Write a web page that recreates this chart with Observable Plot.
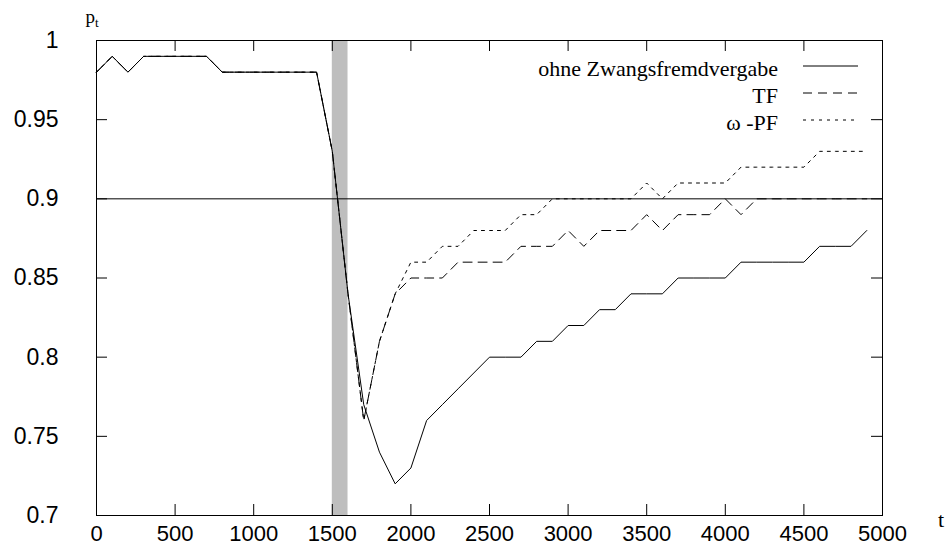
<!DOCTYPE html>
<html><head><meta charset="utf-8">
<script src="https://cdn.jsdelivr.net/npm/d3@7"></script>
<script src="https://cdn.jsdelivr.net/npm/@observablehq/plot@0.6"></script>
<style>body{margin:0;background:#fff}</style>
</head><body><div id="chart"></div>
<script>
const tValues = [0,100,200,300,400,500,600,700,800,900,1000,1100,1200,1300,1400,1500,1600,1700,1800,1900,2000,2100,2200,2300,2400,2500,2600,2700,2800,2900,3000,3100,3200,3300,3400,3500,3600,3700,3800,3900,4000,4100,4200,4300,4400,4500,4600,4700,4800,4900];
const ohneZF = [0.98,0.99,0.98,0.99,0.99,0.99,0.99,0.99,0.98,0.98,0.98,0.98,0.98,0.98,0.98,0.93,0.84,0.77,0.74,0.72,0.73,0.76,0.77,0.78,0.79,0.80,0.80,0.80,0.81,0.81,0.82,0.82,0.83,0.83,0.84,0.84,0.84,0.85,0.85,0.85,0.85,0.86,0.86,0.86,0.86,0.86,0.87,0.87,0.87,0.88];
const tfValues = [0.98,0.99,0.98,0.99,0.99,0.99,0.99,0.99,0.98,0.98,0.98,0.98,0.98,0.98,0.98,0.93,0.84,0.76,0.81,0.84,0.85,0.85,0.85,0.86,0.86,0.86,0.86,0.87,0.87,0.87,0.88,0.87,0.88,0.88,0.88,0.89,0.88,0.89,0.89,0.89,0.90,0.89,0.90,0.90,0.90,0.90,0.90,0.90,0.90,0.90];
const omegaPF = [0.98,0.99,0.98,0.99,0.99,0.99,0.99,0.99,0.98,0.98,0.98,0.98,0.98,0.98,0.98,0.93,0.84,0.76,0.81,0.84,0.86,0.86,0.87,0.87,0.88,0.88,0.88,0.89,0.89,0.90,0.90,0.90,0.90,0.90,0.90,0.91,0.90,0.91,0.91,0.91,0.91,0.92,0.92,0.92,0.92,0.92,0.93,0.93,0.93,0.93];
const seriesNames = ["ohne Zwangsfremdvergabe", "TF", "ω -PF"];
const band = [{start: 1500, end: 1600}];
const threshold = [0.9];
const xTicks = [0,500,1000,1500,2000,2500,3000,3500,4000,4500,5000];
const yTicks = [0.7,0.75,0.8,0.85,0.9,0.95,1];
const yTickLabels = ["0.7","0.75","0.8","0.85","0.9","0.95","1"];

const W = 949, H = 547, mL = 96, mR = 67, mT = 40, mB = 32;
const pw = W - mL - mR, ph = H - mT - mB, tk = 11;
const dashes = [null, "9,6", "3,5"];
const seriesVals = [ohneZF, tfValues, omegaPF];
const rows = seriesVals.map(v => tValues.map((t, i) => ({t, p: v[i]})));
const serif = "'Liberation Serif', 'Times New Roman', serif";

const legend = (index, scales, values, dim) => {
  const g = d3.create("svg:g");
  const right = dim.width - dim.marginRight;
  seriesNames.forEach((name, i) => {
    const base = dim.marginTop + 35.5 + i * 27;
    g.append("text").attr("x", right - 104).attr("y", base)
      .attr("text-anchor", "end").attr("font-family", serif).attr("font-size", 22)
      .attr("fill", "#000").text(name);
    g.append("line").attr("x1", right - 79).attr("x2", right - 24)
      .attr("y1", base - 9.5).attr("y2", base - 9.5)
      .attr("stroke", "#000").attr("stroke-width", 1)
      .attr("stroke-dasharray", dashes[i]);
  });
  const pl = g.append("text").attr("x", dim.marginLeft - 4).attr("y", dim.marginTop - 17)
    .attr("font-family", serif).attr("font-size", 19).attr("fill", "#000");
  pl.append("tspan").text("p");
  pl.append("tspan").attr("font-size", 13).attr("dy", 4).text("t");
  g.append("text").attr("x", dim.width - 8).attr("y", dim.height - dim.marginBottom + 11.5)
    .attr("font-family", serif).attr("font-size", 22).attr("fill", "#000").text("t");
  return g.node();
};

const chart = Plot.plot({
  width: W, height: H,
  marginLeft: mL, marginRight: mR, marginTop: mT, marginBottom: mB,
  style: {fontFamily: "'Liberation Sans', Arial, sans-serif", fontSize: "22px", color: "#000", background: "#fff"},
  x: {domain: [0, 5000]},
  y: {domain: [0.7, 1]},
  marks: [
    Plot.rect(band, {x1: "start", x2: "end", y1: 0.7, y2: 1, fill: "#bebebe"}),
    Plot.ruleY(threshold, {stroke: "#000", strokeWidth: 1}),
    ...rows.map((r, i) => Plot.line(r, {x: "t", y: "p", stroke: "#000", strokeWidth: 1, strokeDasharray: dashes[i]})),
    Plot.frame({stroke: "#000", strokeWidth: 1}),
    Plot.tickY(yTicks, {y: d => d, insetRight: pw - tk, stroke: "#000"}),
    Plot.tickY(yTicks, {y: d => d, insetLeft: pw - tk, stroke: "#000"}),
    Plot.tickX(xTicks, {x: d => d, insetTop: ph - tk, stroke: "#000"}),
    Plot.tickX(xTicks, {x: d => d, insetBottom: ph - tk, stroke: "#000"}),
    Plot.axisX({ticks: xTicks, tickSize: 0, tickPadding: 10, fontSize: 22, label: null, tickFormat: d => String(d)}),
    Plot.axisY({ticks: yTicks, tickSize: 0, tickPadding: 38, fontSize: 23, label: null, tickFormat: d => yTickLabels[yTicks.indexOf(d)]}),
    legend
  ]
});
document.getElementById("chart").append(chart);
</script></body></html>
